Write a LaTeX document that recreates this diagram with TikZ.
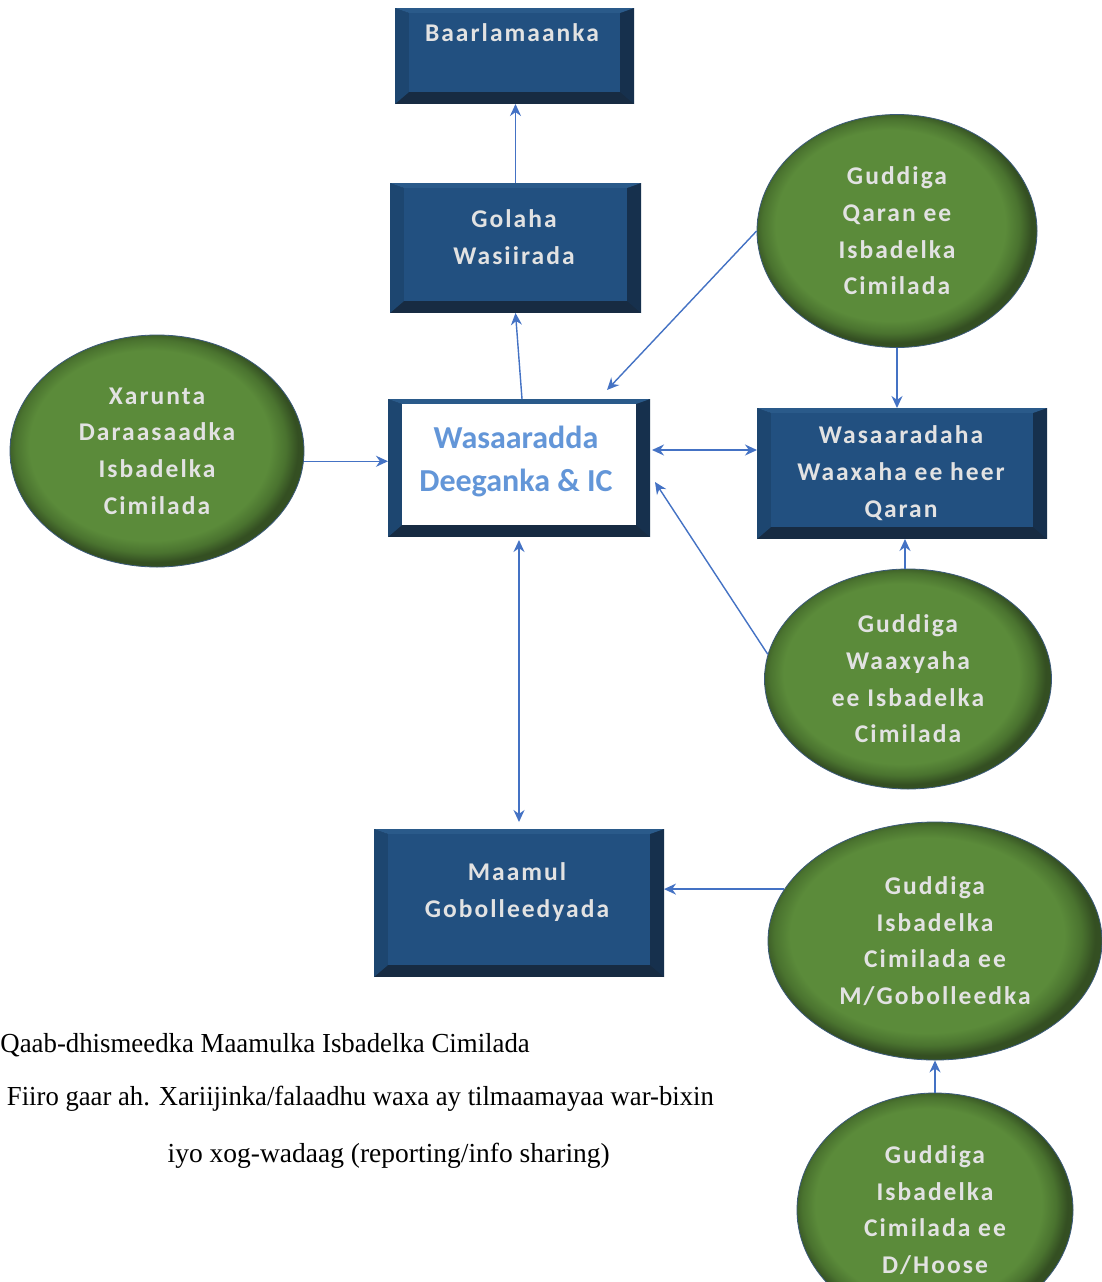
\documentclass[tikz,border=0pt]{standalone}
\usepackage{fontspec}
\setmainfont{Liberation Serif}
\newfontfamily\boxfont[LetterSpace=8]{Carlito}
\newfontfamily\mainboxfont{Carlito}
\usetikzlibrary{shapes.geometric,arrows.meta,calc}
\definecolor{bxin}{HTML}{225080}
\definecolor{bxleft}{HTML}{1D4670}
\definecolor{bxtop}{HTML}{2A5A8A}
\definecolor{bxright}{HTML}{16304D}
\definecolor{bxbot}{HTML}{172B42}
\definecolor{boxtxt}{HTML}{E2E2E2}
\definecolor{wastxt}{HTML}{6396D8}
\definecolor{arrblue}{HTML}{4472C4}
\definecolor{glight}{HTML}{5B8B3A}
\definecolor{gmid}{HTML}{4A732F}
\definecolor{gdark}{HTML}{344F22}
\definecolor{ellline}{HTML}{3B5A7A}
\pgfdeclareradialshading{gbevel}{\pgfpoint{-2bp}{2bp}}{color(0bp)=(glight);color(20.5bp)=(glight);color(23bp)=(gmid);color(25bp)=(gdark);color(50bp)=(gdark)}
\newcommand\bevfill[2]{%
  \fill[bxbot] (#1.south west) rectangle (#1.north east);
  \fill[bxright] (#1.north east) -- (#1.south east) -- ($(#1.south east)+(-14,-12)$) -- ($(#1.north east)+(-14,5)$) -- cycle;
  \fill[bxleft] (#1.north west) -- (#1.south west) -- ($(#1.south west)+(14,-12)$) -- ($(#1.north west)+(14,5)$) -- cycle;
  \fill[bxtop] (#1.north west) -- (#1.north east) -- ($(#1.north east)+(-14,5)$) -- ($(#1.north west)+(14,5)$) -- cycle;
  \fill[#2] ($(#1.north west)+(14,5)$) rectangle ($(#1.south east)+(-14,-12)$);
}
\begin{document}
\begin{tikzpicture}[x=1pt,y=-1pt,
  tip/.tip={Stealth[length=12pt,width=11pt]},
  arr/.style={draw=arrblue, line width=1.4pt, -tip},
  darr/.style={draw=arrblue, line width=1.4pt, tip-tip},
  bx/.style={rectangle, inner sep=0pt, outer sep=0pt},
  bxtext/.style={text=boxtxt, font=\boxfont\bfseries\fontsize{25.5}{37}\selectfont, align=center, inner sep=0pt},
  gell/.style={ellipse, draw=ellline, line width=0.8pt, shading=gbevel, inner sep=0pt,
     text=boxtxt, font=\boxfont\bfseries\fontsize{25.5}{36.7}\selectfont, align=center},
  captext/.style={font=\fontsize{27.5}{30}\selectfont, anchor=base east, inner sep=0pt}]
\useasboundingbox (0,0) rectangle (1102,1282);
\fill[white] (0,0) rectangle (1102,1282);

% boxes
\node[bx, minimum width=239, minimum height=96] (baar) at (514.5,56) {};
\bevfill{baar}{bxin}
\node[bxtext] (baarT) at (512,33) {Baarlamaanka};

\node[bx, minimum width=251, minimum height=130] (gol) at (515.5,248) {};
\bevfill{gol}{bxin}
\node[bxtext] (golT) at (514,237) {Golaha\\Wasiirada};

\node[bx, minimum width=262, minimum height=138] (was) at (519,468) {};
\bevfill{was}{white}
\node[text=wastxt, font=\mainboxfont\bfseries\fontsize{32}{43}\selectfont, align=center, inner sep=0pt] (wasT) at (516,461) {Wasaaradda\\Deeganka \& IC};

\node[bx, minimum width=290, minimum height=131] (wq) at (902,473.5) {};
\bevfill{wq}{bxin}
\node[bxtext] (wqT) at (901,473) {Wasaaradaha\\Waaxaha ee heer\\Qaran};

\node[bx, minimum width=290, minimum height=148] (mg) at (519,903) {};
\bevfill{mg}{bxin}
\node[bxtext] (mgT) at (517,892) {Maamul\\Gobolleedyada};

% ellipses
\node[gell, minimum width=294, minimum height=232] (xar) at (157,451) {Xarunta\\Daraasaadka\\Isbadelka\\Cimilada};
\node[gell, minimum width=280, minimum height=233] (gq) at (897,231) {Guddiga\\Qaran ee\\Isbadelka\\Cimilada};
\node[gell, minimum width=287, minimum height=220] (gw) at (908,679) {Guddiga\\Waaxyaha\\ee Isbadelka\\Cimilada};
\node[gell, minimum width=334, minimum height=238] (gm) at (935,941) {Guddiga\\Isbadelka\\Cimilada ee\\M/Gobolleedka};
\node[gell, minimum width=276, minimum height=234] (gd) at (935,1210) {Guddiga\\Isbadelka\\Cimilada ee\\D/Hoose};

% connectors
\draw[arr] (gol.north) -- (gol.north |- baar.south);
\draw[arr] ($(was.north)+(3,0)$) -- (gol.south);
\draw[arr] (xar.-4) -- (was.west |- xar.-4);
\draw[arr] (gq.west) -- ($(was.north east)+(-43,-9)$);
\draw[arr] (gq.south) -- (gq.south |- wq.north);
\coordinate (c1) at ($(was.east)+(2,-18)$);
\draw[darr] (c1) -- (wq.west |- c1);
\draw[arr] (gw.170) -- ($(was.east)+(5,14)$);
\draw[arr] ($(gw.north)+(-3,0)$) -- ($(gw.north |- wq.south)+(-3,0)$);
\draw[darr, shorten <=3pt, shorten >=7pt] (was.south) -- (mg.north);
\draw[arr] (gm.161) -- (mg.east |- gm.161);
\draw[arr] (gd.north) -- (gm.south);

% caption
\node[captext] (cap1) at (530,1052) {\scalebox{0.975}[1]{Qaab-dhismeedka Maamulka Isbadelka Cimilada}};
\node[captext] (cap2) at (714,1105) {\scalebox{0.97}[1]{Fiiro gaar ah. Xariijinka/falaadhu waxa ay tilmaamayaa war-bixin}};
\node[captext] (cap3) at (610,1162) {iyo xog-wadaag (reporting/info sharing)};
\end{tikzpicture}
\end{document}
